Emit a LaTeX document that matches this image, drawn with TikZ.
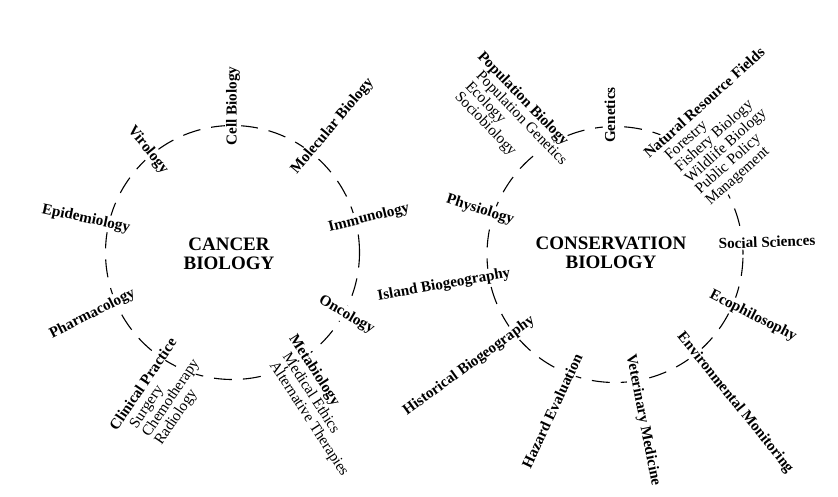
\documentclass[tikz,border=0pt]{standalone}
\usepackage{fontspec}
\setmainfont{Liberation Serif}
\tikzset{
  ring/.style={line width=1.1pt, dash pattern=on 18pt off 11pt},
  lbl/.style={font=\fontsize{15.2}{15}\selectfont\bfseries, fill=white, inner sep=1.5pt},
  hdr/.style={font=\fontsize{15.2}{15}\selectfont\bfseries, fill=white, inner xsep=1.5pt, inner ysep=0pt, anchor=base west},
  subitem/.style={font=\fontsize{15.3}{15}\selectfont, fill=white, inner xsep=1.5pt, inner ysep=0pt, anchor=base west},
  ctr/.style={font=\fontsize{19}{19.5}\selectfont\bfseries, align=center, inner sep=0pt},
}
\begin{document}
\begin{tikzpicture}[x=1pt,y=-1pt]
\useasboundingbox[fill=white] (0,0) rectangle (838,496);
% circles
\draw[ring] (232.5,252.5) circle[radius=127pt];
\draw[ring] (615,254.5) circle[radius=128pt];
% centre titles
\node[ctr] (cancer) at (229,254) {CANCER\\BIOLOGY};
\node[ctr] (cons) at (611,253) {CONSERVATION\\BIOLOGY};
% left circle labels
\node[lbl, rotate=90] (cell) at (233,106) {Cell Biology};
\node[lbl, rotate=50] (mol) at (332.5,126.5) {Molecular Biology};
\node[lbl, rotate=-51] (viro) at (148,150) {Virology};
\node[lbl, rotate=-12] (epi) at (86,219) {Epidemiology};
\node[lbl, rotate=14] (imm) at (369,218) {Immunology};
\node[lbl, rotate=27] (pharm) at (92.5,314) {Pharmacology};
\node[lbl, rotate=-30] (onco) at (346.5,315) {Oncology};
\begin{scope}[shift={(116,433)}, rotate=56, transform shape]
  \node[hdr] (clin) at (0pt,0pt) {Clinical Practice};
  \node[subitem] (surg) at (13pt,-15pt) {Surgery};
  \node[subitem] (chemo) at (13pt,-30pt) {Chemotherapy};
  \node[subitem] (radio) at (13pt,-45pt) {Radiology};
\end{scope}
\begin{scope}[shift={(288,337)}, rotate=-57, transform shape]
  \node[hdr] (meta) at (0pt,0pt) {Metabiology};
  \node[subitem] (ethics) at (12pt,-15.5pt) {Medical Ethics};
  \node[subitem] (alter) at (12pt,-31pt) {Alternative Therapies};
\end{scope}
% right circle labels
\node[lbl, rotate=90] (gen) at (610,115) {Genetics};
\node[lbl, rotate=-18] (phys) at (480,210) {Physiology};
\node[lbl, rotate=2] (soc) at (767,242) {Social Sciences};
\node[lbl, rotate=10] (island) at (444,285) {Island Biogeography};
\node[lbl, rotate=36] (hist) at (469,366) {Historical Biogeography};
\node[lbl, rotate=65] (hazard) at (552,411) {Hazard Evaluation};
\node[lbl, rotate=-79] (vet) at (643,420) {Veterinary Medicine};
\node[lbl, rotate=-51] (env) at (735,403) {Environmental Monitoring};
\node[lbl, rotate=-27] (eco) at (753,316) {Ecophilosophy};
\begin{scope}[shift={(476,56)}, rotate=-46, transform shape]
  \node[hdr] (popbio) at (0pt,0pt) {Population Biology};
  \node[subitem] (popgen) at (13pt,-14.8pt) {Population Genetics};
  \node[subitem] (ecol) at (13pt,-29.6pt) {Ecology};
  \node[subitem] (socio) at (13pt,-44.4pt) {Sociobiology};
\end{scope}
\begin{scope}[shift={(648,160)}, rotate=42, transform shape]
  \node[hdr] (nrf) at (0pt,0pt) {Natural Resource Fields};
  \node[subitem] (forest) at (14pt,-15.2pt) {Forestry};
  \node[subitem] (fish) at (14pt,-30.4pt) {Fishery Biology};
  \node[subitem] (wild) at (14pt,-45.6pt) {Wildlife Biology};
  \node[subitem] (policy) at (14pt,-60.8pt) {Public Policy};
  \node[subitem] (manage) at (14pt,-76pt) {Management};
\end{scope}
\end{tikzpicture}
\end{document}
